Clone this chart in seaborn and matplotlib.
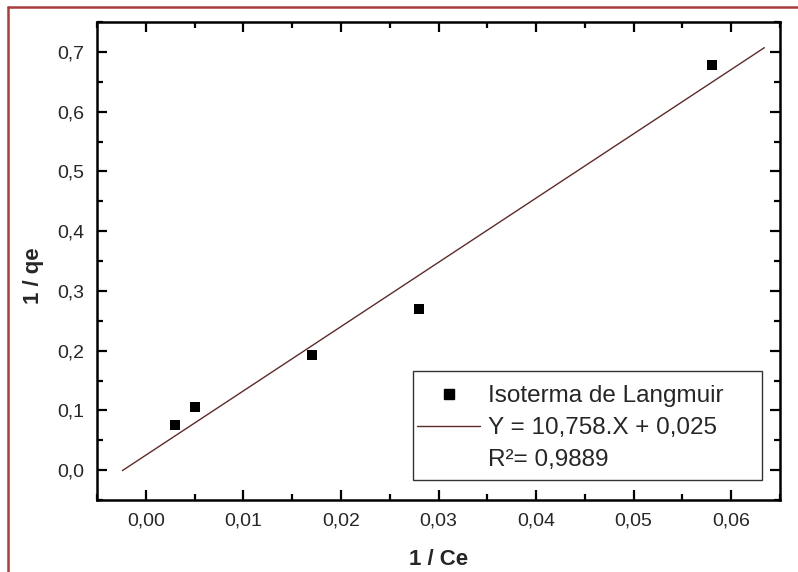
import matplotlib
matplotlib.use("Agg")
import matplotlib.pyplot as plt
from matplotlib.lines import Line2D
from matplotlib.patches import Rectangle
from matplotlib.ticker import MultipleLocator, FuncFormatter
import pandas as pd
import seaborn as sns

# Langmuir linearisation: 1/qe versus 1/Ce
inv_ce = [0.003, 0.005, 0.017, 0.028, 0.058]
inv_qe = [0.075, 0.105, 0.193, 0.270, 0.678]

# fitted straight line  Y = a.X + b
slope = 10.758
intercept = 0.025
r_squared = "0,9889"
fit_x = [-0.0024, 0.0634]

series_label = "Isoterma de Langmuir"
fit_label = "Y = 10,758.X + 0,025"
r2_label = "R\u00b2= " + r_squared

sns.set_style("ticks")
plt.rcParams["font.family"] = ["Liberation Sans", "DejaVu Sans"]

points = pd.DataFrame({"x": inv_ce, "y": inv_qe})
fit = pd.DataFrame({"x": fit_x, "y": [slope * v + intercept for v in fit_x]})

W, H = 798, 572
fig = plt.figure(figsize=(W / 100, H / 100), dpi=100)
ax_l, ax_r, ax_t, ax_b = 97, 780, 22, 500
ax = fig.add_axes([ax_l / W, (H - ax_b) / H, (ax_r - ax_l) / W, (ax_b - ax_t) / H])


def ax_x(px):
    return (px - ax_l) / (ax_r - ax_l)


def ax_y(py):
    return (ax_b - py) / (ax_b - ax_t)


line_color = "#5e2b2b"
sns.lineplot(data=fit, x="x", y="y", ax=ax, color=line_color, lw=1.0)
sns.scatterplot(data=points, x="x", y="y", ax=ax, marker="s", s=48,
                color="black", edgecolor="black", linewidth=0, zorder=3)

ax.set_xlim(-0.005, 0.065)
ax.set_ylim(-0.05, 0.75)

ax.xaxis.set_major_locator(MultipleLocator(0.01))
ax.xaxis.set_minor_locator(MultipleLocator(0.005))
ax.yaxis.set_major_locator(MultipleLocator(0.1))
ax.yaxis.set_minor_locator(MultipleLocator(0.05))
ax.xaxis.set_major_formatter(FuncFormatter(lambda v, p: f"{v:.2f}".replace(".", ",").replace("-0,00", "0,00")))
ax.yaxis.set_major_formatter(FuncFormatter(lambda v, p: f"{v:.1f}".replace(".", ",").replace("-0,0", "0,0")))

ax.tick_params(which="both", direction="in", top=True, right=True,
               width=1.6, color="black", labelsize=14, pad=9)
ax.tick_params(which="major", length=7.5)
ax.tick_params(which="minor", length=4)
for sp in ax.spines.values():
    sp.set_linewidth(1.8)
    sp.set_color("black")

ax.set_xlabel("1 / Ce", fontsize=16, fontweight="bold")
ax.set_ylabel("1 / qe", fontsize=16, fontweight="bold")
ax.xaxis.set_label_coords(0.5, ax_y(549))
ax.yaxis.set_label_coords(ax_x(44), ax_y(276))

handles = [
    Line2D([], [], marker="s", color="black", linestyle="none", markersize=7),
    Line2D([], [], color=line_color, lw=1.0),
    Line2D([], [], linestyle="none"),
]
leg = ax.legend(handles, [series_label, fit_label, r2_label],
                loc="upper left", bbox_to_anchor=(ax_x(417), ax_y(385)),
                borderaxespad=0, borderpad=0, fontsize=17.5, frameon=False,
                handlelength=2.6, handletextpad=0.33, labelspacing=0.42)

# legend box
ax.add_patch(Rectangle((ax_x(413), ax_y(480)), ax_x(762) - ax_x(413), ax_y(371) - ax_y(480),
                       transform=ax.transAxes, facecolor="white", edgecolor="#333333",
                       lw=1.0, zorder=4))
leg.set_zorder(5)

# page frame (left and top edges)
border = "#a93c3c"
fig.add_artist(Line2D([8 / W, 8 / W], [0, 1 - 7 / H], transform=fig.transFigure,
                      color=border, lw=1.8))
fig.add_artist(Line2D([8 / W, 1], [1 - 7 / H, 1 - 7 / H], transform=fig.transFigure,
                      color=border, lw=1.8))

fig.savefig("out.png", dpi=100)
